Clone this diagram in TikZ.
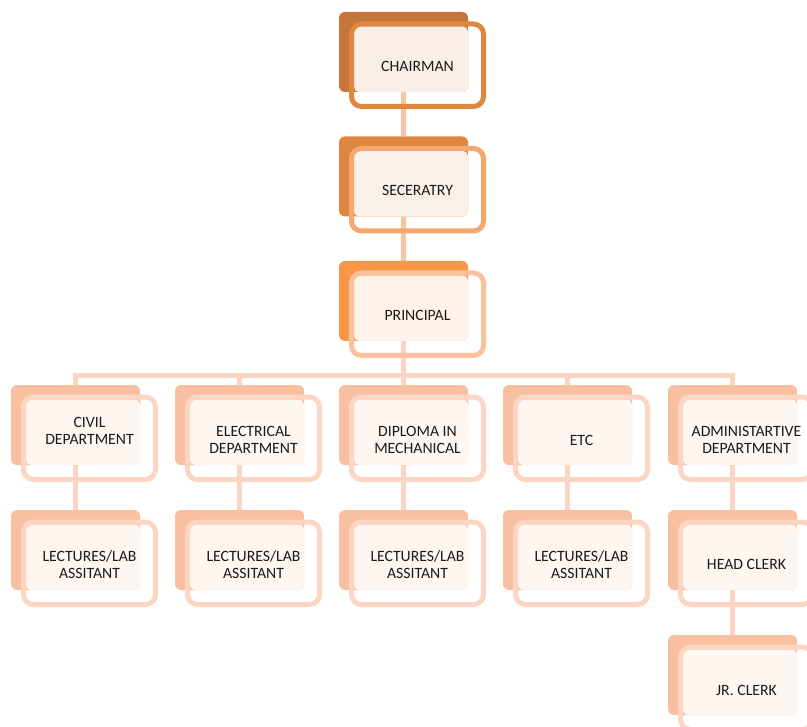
\documentclass[tikz,border=0pt]{standalone}
\usepackage{fontspec}
\setmainfont{Carlito}
\usetikzlibrary{backgrounds}
\definecolor{b1}{HTML}{C5763A}
\definecolor{f1}{HTML}{E0873E}
\definecolor{c1}{HTML}{F9EFE8}
\definecolor{b2}{HTML}{DE8640}
\definecolor{f2}{HTML}{F5A770}
\definecolor{c2}{HTML}{FAF0EA}
\definecolor{b3}{HTML}{F79646}
\definecolor{f3}{HTML}{FBC09E}
\definecolor{c3}{HTML}{FEF2EA}
\definecolor{b4}{HTML}{F8C0A0}
\definecolor{f4}{HTML}{FCD6C2}
\definecolor{c4}{HTML}{FEF6F1}
\definecolor{lnA}{HTML}{F8C4A2}
\definecolor{lnB}{HTML}{FCD5C0}
\definecolor{txt}{HTML}{1A1A1A}
\tikzset{
  backbox/.style={rectangle, rounded corners=4.5pt, inner sep=0pt,
    minimum width=96.75pt, minimum height=60pt},
  framebox/.style={rectangle, rounded corners=7.5pt, inner sep=0pt, draw,
    line width=3.75pt, minimum width=99pt, minimum height=61.875pt},
  creambox/.style={rectangle, rounded corners=3.75pt, inner sep=0pt,
    minimum width=85.5pt, minimum height=49.125pt},
  labeltext/.style={align=center, text=txt, inner sep=0pt,
    font=\fontsize{11.8}{12.8}\selectfont},
  conn/.style={line width=3.75pt}
}
% #1 name, #2 bx, #3 by, #4 back, #5 frame, #6 cream, #7 text y offset, #8 text
\newcommand\orgnode[8]{%
  \node[backbox, fill=#4] (#1B) at (#2+64.5,#3+40) {};
  \node[creambox, fill=#6] (#1C) at (#2+72,#3+47.25) {};
  \node[framebox, draw=#5] (#1F) at (#2+78.5,#3+53.25) {};
  \node[labeltext] (#1) at (#2+78.5,#3+#7) {#8};
}
\begin{document}
\begin{tikzpicture}[x=0.75pt,y=-0.75pt]
\useasboundingbox (0,0) rectangle (807,727);
\clip (0,0) rectangle (807,727);
\orgnode{chair}{339}{12}{b1}{f1}{c1}{54}{CHAIRMAN}
\orgnode{sec}{339}{136.5}{b2}{f2}{c2}{54}{SECERATRY}
\orgnode{prin}{339}{261}{b3}{f3}{c3}{54}{PRINCIPAL}
\orgnode{civ}{11}{385}{b4}{f4}{c4}{45.5}{CIVIL\\DEPARTMENT}
\orgnode{ele}{175}{385}{b4}{f4}{c4}{55}{ELECTRICAL\\DEPARTMENT}
\orgnode{dip}{339}{385}{b4}{f4}{c4}{55}{DIPLOMA IN\\MECHANICAL}
\orgnode{etc}{503}{385}{b4}{f4}{c4}{55}{ETC}
\orgnode{adm}{668}{385}{b4}{f4}{c4}{55}{ADMINISTARTIVE\\DEPARTMENT}
\orgnode{lcA}{11}{510}{b4}{f4}{c4}{54.5}{LECTURES/LAB\\ASSITANT}
\orgnode{lcB}{175}{510}{b4}{f4}{c4}{54.5}{LECTURES/LAB\\ASSITANT}
\orgnode{lcC}{339}{510}{b4}{f4}{c4}{54.5}{LECTURES/LAB\\ASSITANT}
\orgnode{lcD}{503}{510}{b4}{f4}{c4}{54.5}{LECTURES/LAB\\ASSITANT}
\orgnode{head}{668}{510}{b4}{f4}{c4}{54}{HEAD CLERK}
\orgnode{jr}{668}{635}{b4}{f4}{c4}{55}{JR. CLERK}
\begin{scope}[on background layer]
  \fill[white] (0,0) rectangle (807,727);
  \coordinate (bar) at (403.5,375);
  \draw[conn, lnA] (chairB.south) -- (secB.north);
  \draw[conn, lnA] (secB.south) -- (prinB.north);
  \draw[conn, lnB] (prinB.south) -- (bar);
  \draw[conn, lnB] (civB.north) |- (bar);
  \draw[conn, lnB] (eleB.north) |- (bar);
  \draw[conn, lnB] (dipB.north) -- (bar);
  \draw[conn, lnB] (etcB.north) |- (bar);
  \draw[conn, lnB] (admB.north) |- (bar);
  \draw[conn, lnB] (civB.south) -- (lcAB.north);
  \draw[conn, lnB] (eleB.south) -- (lcBB.north);
  \draw[conn, lnB] (dipB.south) -- (lcCB.north);
  \draw[conn, lnB] (etcB.south) -- (lcDB.north);
  \draw[conn, lnB] (admB.south) -- (headB.north);
  \draw[conn, lnB] (headB.south) -- (jrB.north);
\end{scope}
\end{tikzpicture}
\end{document}
